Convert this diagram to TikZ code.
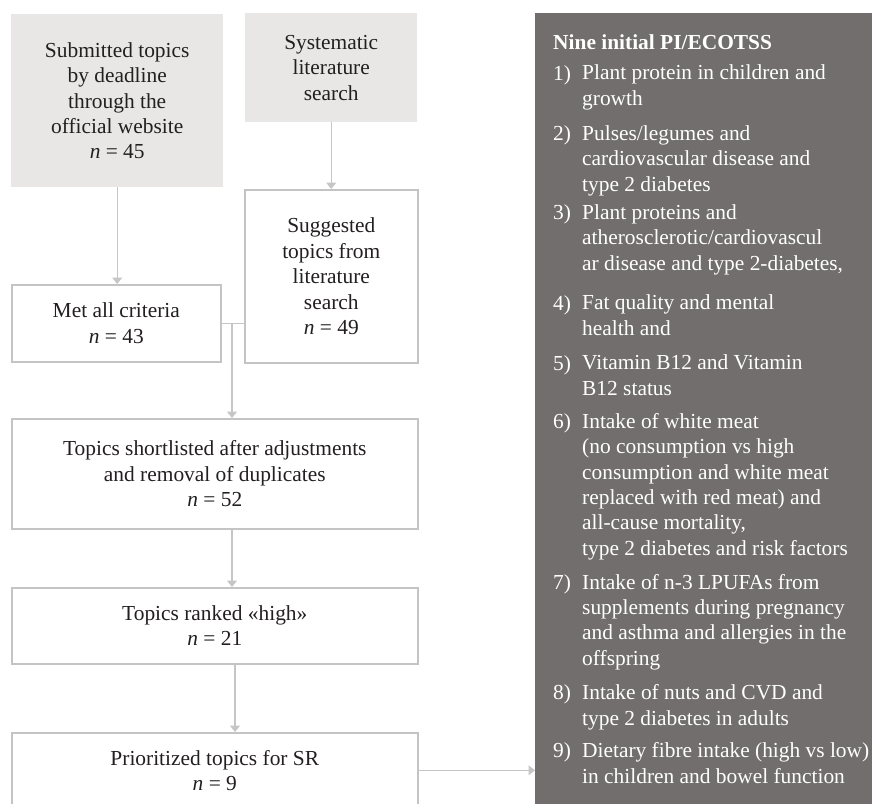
\documentclass[tikz,border=0pt]{standalone}
\usepackage{fontspec}
\setmainfont{Liberation Serif}
\usetikzlibrary{arrows.meta}
\definecolor{lightfill}{HTML}{E8E7E6}
\definecolor{darkfill}{HTML}{716E6D}
\definecolor{edgegray}{HTML}{C4C4C4}
\definecolor{linegray}{HTML}{C6C6C6}
\definecolor{inkcol}{HTML}{231F20}
\begin{document}
\begin{tikzpicture}[x=1pt,y=-1pt,
  every node/.style={font=\fontsize{21.4}{25.4}\selectfont, text=inkcol},
  srcbox/.style={fill=lightfill, draw=none, anchor=north west, inner sep=0pt, align=center},
  flowbox/.style={draw=edgegray, line width=1.6pt, fill=white, anchor=north west, inner sep=0pt, align=center},
  conn/.style={draw=linegray, line width=1.1pt},
  arr/.style={conn, -{Triangle[width=10pt,length=6.5pt]}},
  numlbl/.style={anchor=base west, inner sep=0pt, text=white},
  itemtext/.style={anchor=base west, inner sep=0pt, align=left, text=white, font=\fontsize{21.4}{25.3}\selectfont},
]
\useasboundingbox (0,0) rectangle (872,803);

% left column boxes
\node[srcbox, minimum width=212pt, minimum height=173pt] (sub) at (11,14)
  {Submitted topics\\by deadline\\through the\\official website\\\textit{n} = 45};
\node[srcbox, minimum width=172pt, minimum height=109pt] (sys) at (245,13)
  {Systematic\\literature\\search};
\node[flowbox, minimum width=173pt, minimum height=173pt] (sug) at (244,189)
  {Suggested\\topics from\\literature\\search\\\textit{n} = 49};
\node[flowbox, minimum width=209pt, minimum height=77pt] (met) at (11,284)
  {Met all criteria\\\textit{n} = 43};
\node[flowbox, minimum width=406pt, minimum height=110pt] (short) at (11,418)
  {Topics shortlisted after adjustments\\and removal of duplicates\\\textit{n} = 52};
\node[flowbox, minimum width=406pt, minimum height=76pt] (rank) at (11,587)
  {Topics ranked «high»\\\textit{n} = 21};
\node[flowbox, minimum width=406pt, minimum height=75pt] (prio) at (11,732)
  {Prioritized topics for SR\\\textit{n} = 9};

% dark list box
\node[fill=darkfill, anchor=north west, inner sep=0pt, minimum width=345pt, minimum height=800pt] (list) at (535,13) {};

% connectors
\coordinate (j) at (232,322);
\coordinate (k) at (235,0);
\draw[arr] (sub.south) -- (sub.south |- met.north);
\draw[arr] (sys.south) -- (sys.south |- sug.north);
\draw[conn] (met.east) -- (met.east -| sug.west);
\draw[arr] (met.east -| j) -- (short.north -| j);
\draw[arr] (short.south -| j) -- (rank.north -| j);
\draw[arr] (rank.south -| k) -- (prio.north -| k);
\draw[arr] (prio.east) -- (prio.east -| list.west);

% list content (text nodes are anchored at the baseline of their last line)
\node[anchor=base west, inner sep=0pt, text=white, font=\fontsize{21.4}{25.4}\selectfont\bfseries] (head) at (553,49) {Nine initial PI/ECOTSS};

\node[numlbl] (n1) at (553,80) {1)};
\node[itemtext] (t1) at (582,105) {Plant protein in children and\\growth};
\node[numlbl] (n2) at (553,140) {2)};
\node[itemtext] (t2) at (582,191) {Pulses/legumes and\\cardiovascular disease and\\type 2 diabetes};
\node[numlbl] (n3) at (553,219.5) {3)};
\node[itemtext] (t3) at (582,270) {Plant proteins and\\atherosclerotic/cardiovascul\\ar disease and type 2-diabetes,};
\node[numlbl] (n4) at (553,310) {4)};
\node[itemtext] (t4) at (582,335) {Fat quality and mental\\health and};
\node[numlbl] (n5) at (553,370) {5)};
\node[itemtext] (t5) at (582,395) {Vitamin B12 and Vitamin\\B12 status};
\node[numlbl] (n6) at (553,428.5) {6)};
\node[itemtext] (t6) at (582,555) {Intake of white meat\\(no consumption vs high\\consumption and white meat\\replaced with red meat) and\\all-cause mortality,\\type 2 diabetes and risk factors};
\node[numlbl] (n7) at (553,589) {7)};
\node[itemtext] (t7) at (582,665) {Intake of n-3 LPUFAs from\\supplements during pregnancy\\and asthma and allergies in the\\offspring};
\node[numlbl] (n8) at (553,699.7) {8)};
\node[itemtext] (t8) at (582,725) {Intake of nuts and CVD and\\type 2 diabetes in adults};
\node[numlbl] (n9) at (553,757.7) {9)};
\node[itemtext] (t9) at (582,783) {Dietary fibre intake (high vs low)\\in children and bowel function};
\end{tikzpicture}
\end{document}
